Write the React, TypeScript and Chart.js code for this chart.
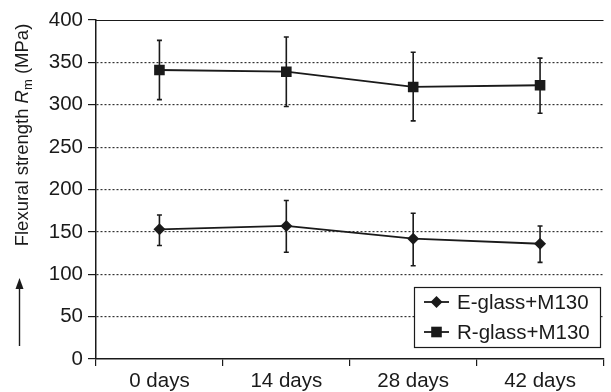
import React, { useEffect, useRef } from "react";
import { Chart, registerables } from "chart.js";
Chart.register(...registerables);

const categories = ["0 days", "14 days", "28 days", "42 days"];
const eGlass = [153, 157, 142, 136];
const eGlassHigh = [170, 187, 172, 157];
const eGlassLow = [134, 126, 110, 114];
const rGlass = [341, 339, 321, 323];
const rGlassHigh = [376, 380, 362, 355];
const rGlassLow = [306, 298, 281, 290];
const seriesNames = ["E-glass+M130", "R-glass+M130"];
const yMin = 0;
const yMax = 400;
const yStep = 50;

const FONT = "'Liberation Sans', Arial, Helvetica, sans-serif";
const INK = "#1a1a1a";
const TICK_SIZE = 20.5;

const errorBarPlugin = {
  id: "errorBars",
  beforeDatasetsDraw(chart: any) {
    const ctx = chart.ctx;
    const y = chart.scales.y;
    ctx.save();
    ctx.strokeStyle = INK;
    ctx.lineWidth = 1.6;
    chart.data.datasets.forEach((ds: any, di: number) => {
      const meta = chart.getDatasetMeta(di);
      meta.data.forEach((pt: any, i: number) => {
        const yh = y.getPixelForValue(ds.errHigh[i]);
        const yl = y.getPixelForValue(ds.errLow[i]);
        ctx.beginPath();
        ctx.moveTo(pt.x, yh);
        ctx.lineTo(pt.x, yl);
        ctx.moveTo(pt.x - 2.5, yh);
        ctx.lineTo(pt.x + 2.5, yh);
        ctx.moveTo(pt.x - 2.5, yl);
        ctx.lineTo(pt.x + 2.5, yl);
        ctx.stroke();
      });
    });
    ctx.restore();
  },
};

function drawMarker(ctx: CanvasRenderingContext2D, style: string, r: number, x: number, y: number) {
  ctx.beginPath();
  if (style === "rectRot") {
    ctx.moveTo(x, y - r);
    ctx.lineTo(x + r, y);
    ctx.lineTo(x, y + r);
    ctx.lineTo(x - r, y);
    ctx.closePath();
  } else {
    const s = Math.SQRT1_2 * r;
    ctx.rect(x - s, y - s, 2 * s, 2 * s);
  }
  ctx.fill();
}

const decorPlugin = {
  id: "decor",
  afterDraw(chart: any) {
    const ctx = chart.ctx;
    const a = chart.chartArea;
    ctx.save();
    // top frame line
    ctx.strokeStyle = INK;
    ctx.lineWidth = 1.2;
    ctx.beginPath();
    ctx.moveTo(a.left, a.top + 0.5);
    ctx.lineTo(a.right, a.top + 0.5);
    ctx.stroke();

    // legend box
    const lx = 414, ly = 287, lw = 186, lh = 60;
    ctx.fillStyle = "#fff";
    ctx.fillRect(lx, ly, lw, lh);
    ctx.lineWidth = 1.2;
    ctx.strokeRect(lx + 0.5, ly + 0.5, lw, lh);
    const styles = ["rectRot", "rect"];
    const radii = [6, 7.5];
    const rowsY = [302, 332];
    ctx.font = `${TICK_SIZE}px ${FONT}`;
    ctx.textBaseline = "middle";
    ctx.textAlign = "left";
    for (let i = 0; i < 2; i++) {
      const yy = rowsY[i];
      ctx.strokeStyle = INK;
      ctx.lineWidth = 1.8;
      ctx.beginPath();
      ctx.moveTo(424, yy);
      ctx.lineTo(449, yy);
      ctx.stroke();
      ctx.fillStyle = INK;
      drawMarker(ctx, styles[i], radii[i], 436.5, yy);
      ctx.fillStyle = INK;
      ctx.fillText(seriesNames[i], 457, yy + 1);
    }

    // y axis title
    ctx.save();
    const cx = 21;
    const cy = 135;
    ctx.translate(cx, cy);
    ctx.rotate(-Math.PI / 2);
    ctx.fillStyle = INK;
    ctx.textBaseline = "alphabetic";
    const f1 = `18.5px ${FONT}`;
    const f2 = `italic 18.5px ${FONT}`;
    const f3 = `13px ${FONT}`;
    const p1 = "Flexural strength ";
    const p2 = "R";
    const p3 = "m";
    const p4 = " (MPa)";
    ctx.font = f1;
    const w1 = ctx.measureText(p1).width;
    const w4 = ctx.measureText(p4).width;
    ctx.font = f2;
    const w2 = ctx.measureText(p2).width;
    ctx.font = f3;
    const w3 = ctx.measureText(p3).width;
    const total = w1 + w2 + w3 + w4;
    let x = -total / 2;
    const base = 7;
    ctx.font = f1;
    ctx.fillText(p1, x, base);
    x += w1;
    ctx.font = f2;
    ctx.fillText(p2, x, base);
    x += w2;
    ctx.font = f3;
    ctx.fillText(p3, x, base + 4);
    x += w3;
    ctx.font = f1;
    ctx.fillText(p4, x, base);
    ctx.restore();

    // arrow
    ctx.strokeStyle = INK;
    ctx.fillStyle = INK;
    ctx.lineWidth = 1.4;
    ctx.beginPath();
    ctx.moveTo(19.5, 346);
    ctx.lineTo(19.5, 286);
    ctx.stroke();
    ctx.beginPath();
    ctx.moveTo(19.5, 278);
    ctx.lineTo(15.5, 289);
    ctx.lineTo(23.5, 289);
    ctx.closePath();
    ctx.fill();
    ctx.restore();
  },
};

export default function App() {
  const ref = useRef<HTMLCanvasElement | null>(null);
  useEffect(() => {
    if (!ref.current) return;
    const chart = new Chart(ref.current, {
      type: "line",
      data: {
        labels: categories,
        datasets: [
          {
            label: seriesNames[0],
            data: eGlass,
            errHigh: eGlassHigh,
            errLow: eGlassLow,
            borderColor: INK,
            backgroundColor: INK,
            borderWidth: 1.8,
            pointStyle: "rectRot",
            pointRadius: 6,
            pointBorderWidth: 0,
            tension: 0,
          } as any,
          {
            label: seriesNames[1],
            data: rGlass,
            errHigh: rGlassHigh,
            errLow: rGlassLow,
            borderColor: INK,
            backgroundColor: INK,
            borderWidth: 1.8,
            pointStyle: "rect",
            pointRadius: 7.5,
            pointBorderWidth: 0,
            tension: 0,
          } as any,
        ],
      },
      options: {
        animation: false,
        responsive: false,
        maintainAspectRatio: false,
        layout: { padding: { top: 20, right: 0, left: 0, bottom: 0 } },
        plugins: { legend: { display: false }, tooltip: { enabled: false } },
        scales: {
          x: {
            offset: true,
            border: { display: true, color: INK, width: 1.5 },
            grid: {
              offset: true,
              drawOnChartArea: false,
              drawTicks: true,
              tickLength: 7,
              color: INK,
              lineWidth: 1.2,
            },
            ticks: {
              color: INK,
              font: { family: FONT, size: TICK_SIZE },
              padding: 3,
              maxRotation: 0,
            },
            afterFit: (s: any) => {
              s.height = 33;
            },
          },
          y: {
            min: yMin,
            max: yMax,
            border: { display: true, color: INK, width: 1.5, dash: [2, 2] },
            grid: {
              color: (c: any) =>
                c.tick && (c.tick.value === yMax || c.tick.value === yMin) ? "rgba(0,0,0,0)" : "#333",
              tickColor: INK,
              lineWidth: 1.2,
              tickBorderDash: [],
              tickLength: 8,
              drawTicks: true,
            },
            ticks: {
              stepSize: yStep,
              color: INK,
              font: { family: FONT, size: TICK_SIZE },
              padding: 5,
            },
            afterFit: (s: any) => {
              s.width = 96;
            },
          },
        },
      },
      plugins: [errorBarPlugin, decorPlugin],
    } as any);
    return () => chart.destroy();
  }, []);
  return (
    <div style={{ position: "fixed", left: 0, top: 0, width: 611, height: 392, background: "#fff" }}>
      <canvas ref={ref} width={611} height={392} style={{ width: 611, height: 392, display: "block" }} />
    </div>
  );
}
